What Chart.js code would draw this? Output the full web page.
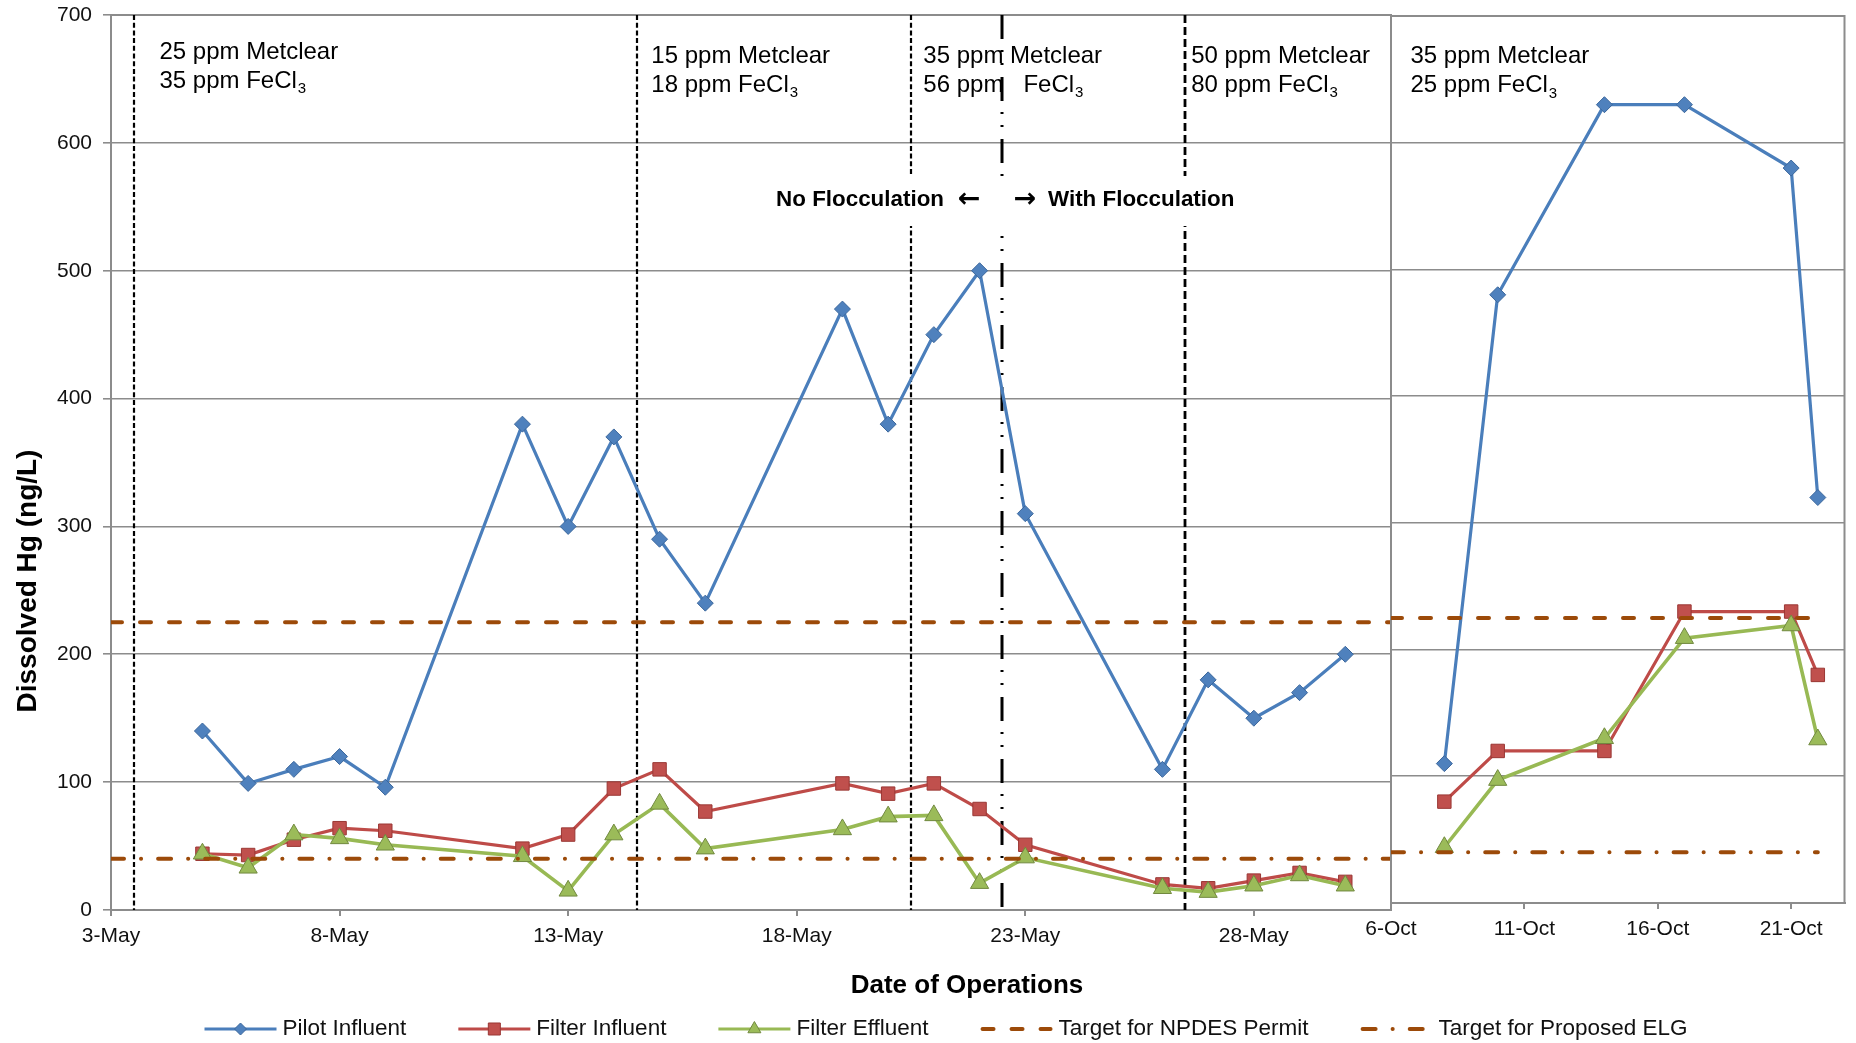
<!DOCTYPE html>
<html>
<head>
<meta charset="utf-8">
<title>Dissolved Hg - Date of Operations</title>
<script src="https://cdn.jsdelivr.net/npm/chart.js@4.4.1/dist/chart.umd.min.js"></script>
<style>
    html, body { margin: 0; padding: 0; background: #fff; }
    #wrap { position: relative; width: 1856px; height: 1043px; overflow: hidden; }
    #mayChart { position: absolute; left: 0; top: 0; }
    #octChart { position: absolute; left: 1300px; top: 0; }
</style>
</head>
<body>
<div id="wrap">
    <canvas id="mayChart" width="1856" height="1043"></canvas>
    <canvas id="octChart" width="556" height="960"></canvas>
</div>
<script>
// --- data: May run (day of month) ---
const mayDays = [5, 6, 7, 8, 9, 12, 13, 14, 15, 16, 19, 20, 21, 22, 23, 26, 27, 28, 29, 30];
const mayPilotInfluent = [140, 99, 110, 120, 96, 380, 300, 370, 290, 240, 470, 380, 450, 500, 310, 110, 180, 150, 170, 200];
const mayFilterInfluent = [44, 43, 55, 64, 62, 48, 59, 95, 110, 77, 99, 91, 99, 79, 51, 20, 17, 23, 29, 22];
const mayFilterEffluent = [44, 33, 59, 56, 51, 42, 15, 59, 83, 48, 63, 73, 74, 21, 41, 17, 14, 19, 27, 19];

// --- data: October run (day of month) ---
const octDays = [8, 10, 14, 17, 21, 22];
const octPilotInfluent = [110, 480, 630, 630, 580, 320];
const octFilterInfluent = [80, 120, 120, 230, 230, 180];
const octFilterEffluent = [44, 97, 130, 209, 219, 129];

// targets (ng/L)
const npdesTarget = 225;
const elgTarget = 40;

// axes
const mayRange = [3, 31];
const octRange = [6, 23];
const octTargetRange = [6, 22];
const mayTicks = [3, 8, 13, 18, 23, 28];
const octTicks = [6, 11, 16, 21];
const yTicks = [0, 100, 200, 300, 400, 500, 600, 700];

// dosing periods
const phaseBreaks = [3.5, 14.5, 20.5, 26.5];
const flocculationStart = 22.5;
const mayDoseDays = [4.06, 14.82, 20.77, 26.63];
const mayDoseLevels = [671, 668, 668, 668];
const mayMetclear = ['25 ppm Metclear', '15 ppm Metclear', '35 ppm Metclear', '50 ppm Metclear'];
const mayFeCl = ['35 ppm FeCl', '18 ppm FeCl', '56 ppm   FeCl', '80 ppm FeCl'];
const octDoseDay = 6.73;
const octDoseLevel = 668;
const octMetclear = '35 ppm Metclear';
const octFeCl = '25 ppm FeCl';

const FAMILY = "'Liberation Sans', Arial, sans-serif";
const GRID = '#8c8c8c';
const TEXT = '#111';
const TARGET = '#9c4a09';

Chart.defaults.font.family = FAMILY;
Chart.defaults.color = TEXT;

const styles = {
    pilot:    { line: '#4a7ebb', fill: '#4f81bd', edge: '#3b679c', point: 'rectRot',  r: 8,    lr: 6,   w: 3.2 },
    influent: { line: '#be4b48', fill: '#c0504d', edge: '#9a3734', point: 'rect',     r: 9.5,  lr: 8.5, w: 3.2 },
    effluent: { line: '#98b954', fill: '#9bbb59', edge: '#71893f', point: 'triangle', r: 10.5, lr: 7.5, w: 3.6 }
};
const npdesDash = [11, 18];
const elgDash = [13, 17, 0.1, 17];

function seriesSet(label, xs, ys, st, order) {
    return {
        label: label,
        data: xs.map((x, i) => ({ x: x, y: ys[i] })),
        borderColor: st.line,
        backgroundColor: st.fill,
        borderWidth: st.w,
        pointStyle: st.point,
        pointRadius: st.r,
        pointBackgroundColor: st.fill,
        pointBorderColor: st.edge,
        pointBorderWidth: 1,
        tension: 0,
        order: order
    };
}

function targetSet(label, range, value, dash) {
    return {
        label: label,
        data: range.map(x => ({ x: x, y: value })),
        borderColor: TARGET,
        borderWidth: 4,
        borderDash: dash,
        borderCapStyle: 'round',
        pointRadius: 0,
        order: 0
    };
}

function drawDose(ctx, x, y, top, bottom) {
    ctx.save();
    ctx.fillStyle = '#000';
    ctx.textAlign = 'left';
    ctx.textBaseline = 'middle';
    ctx.font = '24px ' + FAMILY;
    ctx.fillText(top, x, y);
    ctx.fillText(bottom, x, y + 29);
    const w = ctx.measureText(bottom).width;
    ctx.font = '15px ' + FAMILY;
    ctx.fillText('3', x + w + 1, y + 37);
    ctx.restore();
}

// frame: right / top border of a plot area
const frame = {
    id: 'frame',
    beforeDatasetsDraw(chart) {
        const { ctx, chartArea: a } = chart;
        ctx.save();
        ctx.strokeStyle = GRID;
        ctx.lineWidth = 2;
        ctx.beginPath();
        ctx.moveTo(a.left, a.top);
        ctx.lineTo(a.right, a.top);
        ctx.lineTo(a.right, a.bottom);
        ctx.stroke();
        ctx.restore();
    }
};

// vertical period lines and their labels (May panel)
const periods = {
    id: 'periods',
    beforeDatasetsDraw(chart) {
        const { ctx, chartArea: a, scales } = chart;
        const x = scales.x, y = scales.y;
        ctx.save();
        ctx.strokeStyle = '#000';
        phaseBreaks.forEach((d, i) => {
            const px = Math.round(x.getPixelForValue(d));
            ctx.lineWidth = i === 3 ? 2.8 : 2.2;
            ctx.setLineDash(i === 3 ? [8, 4] : [5, 2.7]);
            ctx.beginPath();
            ctx.moveTo(px, a.top);
            ctx.lineTo(px, a.bottom);
            ctx.stroke();
        });
        const fx = Math.round(x.getPixelForValue(flocculationStart));
        ctx.lineWidth = 3;
        ctx.setLineDash([24, 11, 2, 11, 2, 12]);
        ctx.beginPath();
        ctx.moveTo(fx, a.top);
        ctx.lineTo(fx, a.bottom);
        ctx.stroke();
        ctx.setLineDash([]);

        // flocculation label on a white box
        const cy = 200;
        ctx.font = 'bold 22.4px ' + FAMILY;
        const lw = ctx.measureText('No Flocculation').width;
        const rw = ctx.measureText('With Flocculation').width;
        ctx.fillStyle = '#fff';
        ctx.fillRect(fx - 58 - lw - 10, cy - 24, lw + rw + 58 + 46 + 20, 50);
        ctx.fillStyle = '#000';
        ctx.textBaseline = 'middle';
        ctx.textAlign = 'right';
        ctx.fillText('No Flocculation', fx - 58, cy);
        ctx.textAlign = 'left';
        ctx.fillText('With Flocculation', fx + 46, cy);
        ctx.textAlign = 'center';
        ctx.font = 'bold 27px "DejaVu Sans", sans-serif';
        ctx.fillText('\u2190', fx - 33, cy);
        ctx.fillText('\u2192', fx + 23, cy);
        ctx.restore();

        mayDoseDays.forEach((d, i) => {
            drawDose(ctx, x.getPixelForValue(d), y.getPixelForValue(mayDoseLevels[i]), mayMetclear[i], mayFeCl[i]);
        });
    }
};

// legend and axis titles for the whole figure
const figureText = {
    id: 'figureText',
    afterDraw(chart) {
        const ctx = chart.ctx;
        ctx.save();
        ctx.fillStyle = '#000';
        ctx.textBaseline = 'middle';
        ctx.textAlign = 'center';
        ctx.font = 'bold 26px ' + FAMILY;
        ctx.fillText('Date of Operations', 967, 986);
        ctx.save();
        ctx.translate(28, 581);
        ctx.rotate(-Math.PI / 2);
        ctx.font = 'bold 28px ' + FAMILY;
        ctx.fillText('Dissolved Hg (ng/L)', 0, 0);
        ctx.restore();

        const items = [
            { label: 'Pilot Influent', st: styles.pilot },
            { label: 'Filter Influent', st: styles.influent },
            { label: 'Filter Effluent', st: styles.effluent },
            { label: 'Target for NPDES Permit', dash: npdesDash },
            { label: 'Target for Proposed ELG', dash: elgDash }
        ];
        ctx.font = '22.5px ' + FAMILY;
        const widths = items.map(it => ctx.measureText(it.label).width);
        const SYM = 72, GAP = 6, SEP = 52;
        const total = widths.reduce((s, w) => s + SYM + GAP + w, 0) + SEP * (items.length - 1);
        let lx = 946 - total / 2;
        const ly = 1029;
        items.forEach((it, i) => {
            ctx.save();
            if (it.st) {
                ctx.strokeStyle = it.st.line;
                ctx.lineWidth = 3;
                ctx.beginPath();
                ctx.moveTo(lx, ly);
                ctx.lineTo(lx + SYM, ly);
                ctx.stroke();
                ctx.fillStyle = it.st.fill;
                ctx.strokeStyle = it.st.edge;
                ctx.lineWidth = 1;
                Chart.helpers.drawPoint(ctx, { pointStyle: it.st.point, radius: it.st.lr, borderWidth: 1, rotation: 0 }, lx + SYM / 2, ly);
            } else {
                ctx.strokeStyle = TARGET;
                ctx.lineWidth = 4;
                ctx.lineCap = 'round';
                ctx.setLineDash(it.dash);
                ctx.beginPath();
                ctx.moveTo(lx + 2, ly);
                ctx.lineTo(lx + SYM - 2, ly);
                ctx.stroke();
            }
            ctx.restore();
            ctx.fillStyle = TEXT;
            ctx.textAlign = 'left';
            ctx.fillText(it.label, lx + SYM + GAP, ly);
            lx += SYM + GAP + widths[i] + SEP;
        });
        ctx.restore();
    }
};

// dose label for the October panel
const octDose = {
    id: 'octDose',
    beforeDatasetsDraw(chart) {
        const { ctx, scales } = chart;
        drawDose(ctx, scales.x.getPixelForValue(octDoseDay), scales.y.getPixelForValue(octDoseLevel), octMetclear, octFeCl);
    }
};

function yAxis(width, showLabels) {
    return {
        type: 'linear',
        min: 0,
        max: 700,
        afterBuildTicks: s => { s.ticks = yTicks.map(v => ({ value: v })); },
        afterFit: s => { s.width = width; s.paddingTop = 0; s.paddingBottom = 0; },
        ticks: { display: showLabels, font: { size: 21 }, color: TEXT, padding: 11 },
        grid: { color: GRID, lineWidth: 1.6, tickLength: showLabels ? 8 : 0, drawTicks: showLabels },
        border: { color: GRID, width: 2 }
    };
}

function xAxis(range, ticks, month, height) {
    return {
        type: 'linear',
        min: range[0],
        max: range[1],
        afterBuildTicks: s => { s.ticks = ticks.map(v => ({ value: v })); },
        afterFit: s => { s.height = height; },
        ticks: { callback: v => v + '-' + month, font: { size: 21 }, color: TEXT, padding: 8, maxRotation: 0, autoSkip: false },
        grid: { drawOnChartArea: false, drawTicks: true, tickLength: 6, color: GRID, lineWidth: 2 },
        border: { color: GRID, width: 2 }
    };
}

const common = {
    responsive: false,
    animation: false,
    plugins: { legend: { display: false }, tooltip: { enabled: false } }
};

new Chart(document.getElementById('mayChart'), {
    type: 'line',
    data: {
        datasets: [
            targetSet('Target for NPDES Permit', mayRange, npdesTarget, npdesDash),
            targetSet('Target for Proposed ELG', mayRange, elgTarget, elgDash),
            seriesSet('Filter Effluent', mayDays, mayFilterEffluent, styles.effluent, 2),
            seriesSet('Filter Influent', mayDays, mayFilterInfluent, styles.influent, 3),
            seriesSet('Pilot Influent', mayDays, mayPilotInfluent, styles.pilot, 4)
        ]
    },
    options: Object.assign({}, common, {
        layout: { padding: { left: 0, top: 15, right: 465, bottom: 0 } },
        scales: {
            x: xAxis(mayRange, mayTicks, 'May', 133),
            y: yAxis(111, true)
        }
    }),
    plugins: [frame, periods, figureText]
});

new Chart(document.getElementById('octChart'), {
    type: 'line',
    data: {
        datasets: [
            targetSet('Target for NPDES Permit', octTargetRange, npdesTarget, npdesDash),
            targetSet('Target for Proposed ELG', octTargetRange, elgTarget, elgDash),
            seriesSet('Filter Effluent', octDays, octFilterEffluent, styles.effluent, 2),
            seriesSet('Filter Influent', octDays, octFilterInfluent, styles.influent, 3),
            seriesSet('Pilot Influent', octDays, octPilotInfluent, styles.pilot, 4)
        ]
    },
    options: Object.assign({}, common, {
        layout: { padding: { left: 0, top: 16, right: 3, bottom: 0 } },
        scales: {
            x: xAxis(octRange, octTicks, 'Oct', 57),
            y: yAxis(91, false)
        }
    }),
    plugins: [frame, octDose]
});
</script>
</body>
</html>
